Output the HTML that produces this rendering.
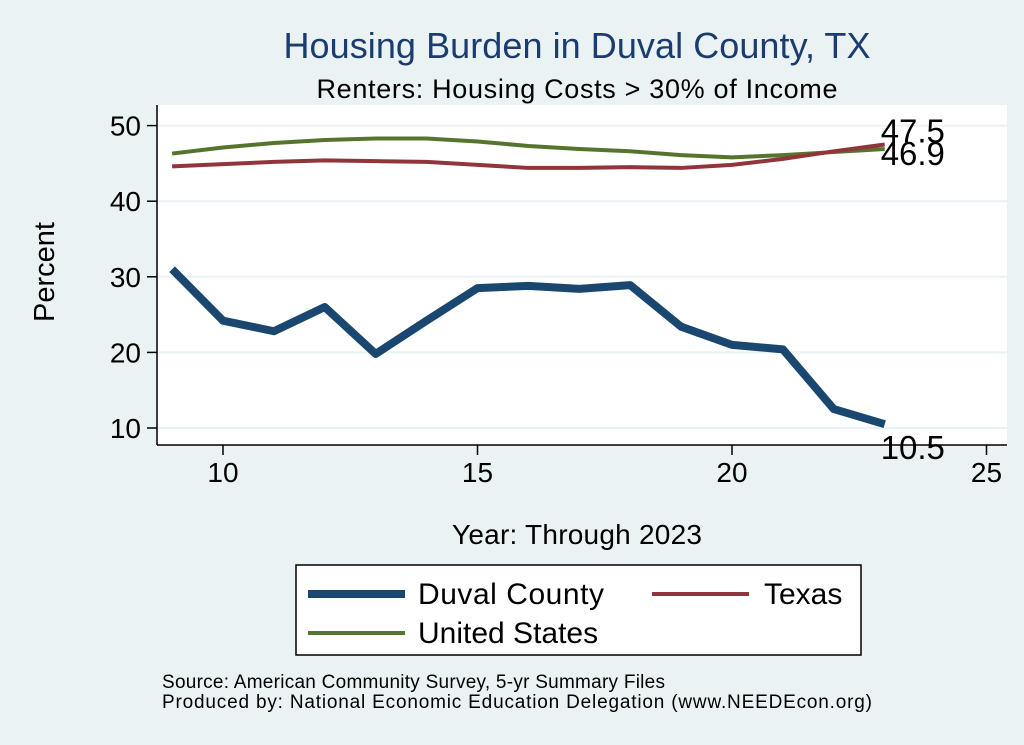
<!DOCTYPE html>
<html><head><meta charset="utf-8"><style>
body{margin:0;background:#eaf2f3;font-family:"Liberation Sans",sans-serif}
svg{display:block}
</style></head><body>
<svg width="1024" height="745" font-family="Liberation Sans, sans-serif">
<rect width="1024" height="745" fill="#eaf2f3"/>
<text x="577" y="58" font-size="36" fill="#1a3c6e" text-anchor="middle" textLength="587">Housing Burden in Duval County, TX</text>
<text x="577" y="98" font-size="27" fill="#000" text-anchor="middle" textLength="521">Renters: Housing Costs &gt; 30% of Income</text>
<rect x="158" y="105" width="849" height="340" fill="#fff"/>
<g id="grid"></g>
<g id="axes"></g>
<g id="series"></g>
<text x="54" y="272" font-size="29" text-anchor="middle" transform="rotate(-90 54 272)">Percent</text>
<text x="577" y="544" font-size="28" text-anchor="middle" textLength="250">Year: Through 2023</text>
<g>
<rect x="296" y="565" width="565" height="90" fill="#fff" stroke="#000" stroke-width="1.5"/>
<g><line x1="308" y1="594" x2="405" y2="594" stroke="#1a476f" stroke-width="8"/><text x="418" y="604" font-size="30" textLength="186">Duval County</text></g>
<g><line x1="652" y1="594" x2="749" y2="594" stroke="#90353b" stroke-width="4"/><text x="764" y="604" font-size="30">Texas</text></g>
<g><line x1="308" y1="633" x2="405" y2="633" stroke="#55752f" stroke-width="4"/><text x="418" y="643" font-size="30">United States</text></g>
</g>
<text x="162" y="688" font-size="19" textLength="503">Source: American Community Survey, 5-yr Summary Files</text>
<text x="162" y="708" font-size="19" textLength="710">Produced by: National Economic Education Delegation (www.NEEDEcon.org)</text>
</svg>
<script>
const years=[9,10,11,12,13,14,15,16,17,18,19,20,21,22,23];
const duval=[31,24.2,22.8,26,19.8,24.2,28.5,28.8,28.4,28.9,23.4,21,20.4,12.5,10.5];
const texas=[44.6,44.9,45.2,45.4,45.3,45.2,44.8,44.4,44.4,44.5,44.4,44.8,45.6,46.6,47.5];
const us=[46.3,47.1,47.7,48.1,48.3,48.3,47.9,47.3,46.9,46.6,46.1,45.8,46.1,46.5,46.9];
const xTicks=[10,15,20,25];
const yTicks=[10,20,30,40,50];
const NS='http://www.w3.org/2000/svg';
function X(v){return 223+(v-10)*50.9;}
function Y(v){return 428-(v-10)*7.56;}
function mk(t,a,p){const e=document.createElementNS(NS,t);for(const k in a)e.setAttribute(k,a[k]);document.getElementById(p).appendChild(e);return e;}
for(const t of yTicks){
 const g=mk('line',{x1:158,x2:1007,y1:Y(t),y2:Y(t),stroke:'#eaf2f3','stroke-width':2},'grid');
 
 
 const tk=mk('line',{x1:147,x2:157,y1:Y(t),y2:Y(t),stroke:'#000','stroke-width':1.5},'axes');
 
 
 const l=mk('text',{x:141,y:Y(t)+10,'font-size':28,'text-anchor':'end'},'axes');l.textContent=t;
 
 
}
for(const t of xTicks){
 const tk=mk('line',{x1:X(t),x2:X(t),y1:445,y2:455,stroke:'#000','stroke-width':1.5},'axes');
 
 
 const l=mk('text',{x:X(t),y:482,'font-size':28,'text-anchor':'middle'},'axes');l.textContent=t;
 
 
}
const ya=mk('line',{x1:157,x2:157,y1:105,y2:445,stroke:'#000','stroke-width':1.5},'axes');


const xa=mk('line',{x1:157,x2:1007,y1:445,y2:445,stroke:'#000','stroke-width':1.5},'axes');


function line(d,c,w,name,dy){
 const p=mk('polyline',{points:d.map((v,i)=>X(years[i])+','+Y(v)).join(' '),fill:'none',stroke:c,'stroke-width':w,'stroke-linejoin':'round'},'series');
 
 
 const last=d[d.length-1];
 const l=mk('text',{x:X(years[years.length-1])-4,y:Y(last)+dy,'font-size':33},'series');
 l.textContent=last.toFixed(1);
 
 
}
line(us,'#55752f',4,'line-us',16);
line(texas,'#90353b',4,'line-texas',-2);
line(duval,'#1a476f',8,'line-duval',35);
</script>
</body></html>
